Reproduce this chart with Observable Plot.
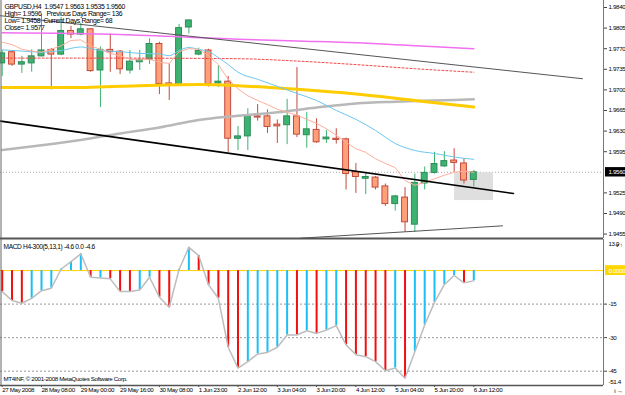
<!DOCTYPE html>
<html><head><meta charset="utf-8">
<script src="https://cdn.jsdelivr.net/npm/d3@7"></script>
<script src="https://cdn.jsdelivr.net/npm/@observablehq/plot@0.6"></script>
<style>
body{margin:0;background:#fff;}
#chart{position:relative;width:625px;height:395px;overflow:hidden;background:#fff;}
#chart svg{position:absolute;left:0;overflow:visible;}
</style></head><body><div id="chart"></div>
<script>
// ---- OHLC (GBPUSD H4) ----
const open  = [1.9745,1.9764,1.9743,1.9745,1.9757,1.9768,1.9760,1.9800,1.9794,1.9803,1.9733,1.9768,1.9765,1.9733,1.9747,1.9751,1.9778,1.9711,1.9707,1.9806,1.9760,1.9767,1.9711,1.9714,1.9617,1.9621,1.9655,1.9655,1.9641,1.9640,1.9655,1.9623,1.9632,1.9616,1.9617,1.9616,1.9560,1.9549,1.9551,1.9536,1.9506,1.9517,1.9471,1.9541,1.9559,1.9570,1.9580,1.9575,1.9547];
const high  = [1.9767,1.9767,1.9757,1.9768,1.9828,1.9770,1.9823,1.9808,1.9813,1.9804,1.9773,1.9795,1.9767,1.9767,1.9767,1.9787,1.9781,1.9744,1.9811,1.9819,1.9771,1.9769,1.9741,1.9723,1.9638,1.9668,1.9675,1.9666,1.9649,1.9684,1.9738,1.9662,1.9651,1.9631,1.9634,1.9618,1.9575,1.9560,1.9553,1.9540,1.9521,1.9534,1.9557,1.9569,1.9594,1.9595,1.9600,1.9583,1.9563];
const low   = [1.9723,1.9740,1.9728,1.9730,1.9756,1.9700,1.9758,1.9787,1.9792,1.9730,1.9670,1.9730,1.9726,1.9727,1.9733,1.9743,1.9692,1.9682,1.9706,1.9795,1.9758,1.9705,1.9704,1.9594,1.9597,1.9597,1.9647,1.9626,1.9609,1.9607,1.9619,1.9601,1.9609,1.9609,1.9608,1.9530,1.9524,1.9522,1.9530,1.9502,1.9494,1.9458,1.9458,1.9530,1.9557,1.9568,1.9560,1.9540,1.9535];
const close = [1.9762,1.9743,1.9747,1.9757,1.9767,1.9760,1.9800,1.9794,1.9803,1.9732,1.9768,1.9764,1.9735,1.9748,1.9751,1.9778,1.9710,1.9708,1.9805,1.9818,1.9766,1.9710,1.9714,1.9617,1.9621,1.9657,1.9653,1.9637,1.9638,1.9655,1.9624,1.9633,1.9611,1.9619,1.9615,1.9557,1.9552,1.9552,1.9534,1.9506,1.9519,1.9475,1.9542,1.9559,1.9574,1.9579,1.9576,1.9546,1.9560];

// ---- moving averages (bar index, value) ----
const fastMA = [1.9781,1.9777,1.9769,1.9766,1.9764,1.9769,1.9775,1.9784,1.9785,1.9775,1.9769,1.9762,1.9758,1.9752,1.9751,1.9752,1.9747,1.9745,1.9765,1.9770,1.9769,1.9758,1.9743,1.9718,1.9702,1.9690,1.9682,1.9675,1.9667,1.9662,1.9657,1.9650,1.9643,1.9634,1.9623,1.9611,1.9600,1.9594,1.9583,1.9575,1.9568,1.9546,1.9538,1.9543,1.9549,1.9555,1.9560,1.9562,1.9560];
const cyanBars = [0,2,4,6,8,10,12,14,16,17,18,19,20,21,22,23,24,26,28,30,32,34,36,38,40,42,44,46,48];
const cyanVals = [1.9768,1.9766,1.9764,1.9767,1.9773,1.9767,1.9765,1.9762,1.9761,1.9758,1.9767,1.9772,1.9769,1.9765,1.9755,1.9743,1.9730,1.9718,1.9706,1.9694,1.9682,1.9665,1.9650,1.9631,1.9609,1.9597,1.9592,1.9586,1.9582];
const magentaBars = [0,12,24,30,36,42,48];
const magentaVals = [1.9797,1.9794,1.9786,1.9783,1.9780,1.9775,1.9770];
const redBars = [0,12,24,30,36,42,48];
const redVals = [1.9754,1.9754,1.9753,1.9749,1.9743,1.9736,1.9730];
const goldBars = [0,8,12,20,24,30,36,42,48];
const goldVals = [1.9704,1.9704,1.9706,1.9709,1.9707,1.9701,1.9693,1.9682,1.9671];
const silverBars = [0,4,8,12,16,20,24,28,32,36,40,44,48];
const silverVals = [1.9598,1.9606,1.9615,1.9626,1.9636,1.9649,1.9656,1.9662,1.9670,1.9677,1.9680,1.9682,1.9684];

// ---- drawn objects (bar index / price) ----
const channelMidBars = [-0.17, 52.04], channelMidVals = [1.9647, 1.9524];
const channelTopBars = [-0.17, 59.06], channelTopVals = [1.9826, 1.9719];
const channelLowBars = [30.36, 50.92], channelLowVals = [1.9448, 1.9469];
const zoneBars = [46.04, 50.0], zoneVals = [1.9512, 1.9559];

// ---- MACD ----
const macd = [-9.4,-13.4,-14.6,-12.4,-9.0,-7.9,0.7,4.0,7.5,-3.0,-3.3,-3.7,-9.4,-9.4,-8.7,-3.0,-11.9,-16.4,0.5,10.4,6.7,-6.4,-12.4,-34.3,-43.6,-40.7,-37.3,-36.6,-34.3,-28.8,-28.8,-26.9,-28.1,-26.6,-24.6,-33.3,-37.6,-38.5,-40.7,-44.8,-43.6,-48.2,-36.3,-24.3,-14.2,-6.3,-2.2,-5.5,-4.6];
const macdDir = ["d","d","d","u","u","u","u","u","u","d","u","d","d","d","u","u","d","d","u","u","d","d","d","d","d","u","u","u","u","u","d","u","d","u","u","d","d","d","d","d","u","d","u","u","u","u","u","d","u"];
const macdLevels = [-15,-30,-45];

// ---- labels ----
const priceTicks = [1.9840,1.9805,1.9770,1.9735,1.9700,1.9665,1.9630,1.9595,1.9525,1.9490,1.9455];
const timeTickBars = [0,4,8,12,16,20,24,28,32,36,40,44,48];
const timeTickLabels = ["27 May 2008","28 May 08:00","29 May 00:00","29 May 16:00","30 May 08:00","1 Jun 23:00","2 Jun 12:00","3 Jun 04:00","3 Jun 20:00","4 Jun 12:00","5 Jun 04:00","5 Jun 20:00","6 Jun 12:00"];
const infoLeft = ["GBPUSD,H4  1.9547 1.9563 1.9535 1.9560","High= 1.9596","Low= 1.9458","Close= 1.9577"];
const infoRight = ["Previous Days Range= 136","Current Days Range= 68"];
const macdTitle = "MACD H4-300(5,13,1) -4.6 0.0 -4.6";
const copyright = "MT4INF, \u00a9 2001-2008 MetaQuotes Software Corp.";

const FONT = "'Liberation Sans',Arial,sans-serif";
const STYLE = {fontFamily:FONT, fontSize:"6.2px", letterSpacing:"-0.35px", color:"#000", background:"transparent", overflow:"visible"};
const INFO_FS = 6.9;
const xDomain = [-0.173, 61.2];
const priceDomain = [1.94475, 1.98519];
const macdDomain = [-51.4, 13.9];
const lastClose = close[close.length-1];

const bars = open.map((o,i)=>({i, o, h:high[i], l:low[i], c:close[i], up: close[i] >= open[i]}));
const pts = (xs, vs) => xs.map((x,k)=>({x, v:vs[k]}));
const BULL_FILL="#3CB371", BULL_LINE="#2E8B57", BEAR_FILL="#FFA07A", BEAR_LINE="#C24A3C";

const chart = document.getElementById("chart");

const main = Plot.plot({
  width:625, height:239, marginTop:0, marginLeft:0, marginRight:22, marginBottom:1,
  x:{domain:xDomain, axis:null}, y:{domain:priceDomain, axis:null},
  style:STYLE,
  marks:[
    Plot.ruleY([lastClose], {stroke:"#aaa", strokeDasharray:"1,2"}),
    Plot.rect([0], {x1:zoneBars[0], x2:zoneBars[1], y1:zoneVals[0], y2:zoneVals[1], fill:"#d9d9d9", fillOpacity:0.85}),
    Plot.ruleX(bars, {x:"i", y1:"l", y2:"h", stroke:d=>d.up?BULL_FILL:BEAR_LINE, strokeWidth:1}),
    Plot.rect(bars, {x1:d=>d.i-0.3, x2:d=>d.i+0.3, y1:"o", y2:"c", fill:d=>d.up?BULL_FILL:BEAR_FILL, stroke:d=>d.up?BULL_LINE:BEAR_LINE, strokeWidth:1}),
    Plot.line(pts(silverBars, silverVals), {x:"x", y:"v", stroke:"#b8b8b8", strokeWidth:2.5, curve:"monotone-x"}),
    Plot.line(pts(goldBars, goldVals), {x:"x", y:"v", stroke:"#FFCC00", strokeWidth:3, curve:"monotone-x"}),
    Plot.line(pts(magentaBars, magentaVals), {x:"x", y:"v", stroke:"#F070F0", strokeWidth:1.5, curve:"monotone-x"}),
    Plot.line(pts(redBars, redVals), {x:"x", y:"v", stroke:"#F04040", strokeWidth:1, strokeDasharray:"2,2", curve:"monotone-x"}),
    Plot.line(pts(cyanBars, cyanVals), {x:"x", y:"v", stroke:"#6CC8EE", strokeWidth:1, curve:"monotone-x"}),
    Plot.line(fastMA.map((v,i)=>({x:i, v})), {x:"x", y:"v", stroke:"#FFAE9C", strokeWidth:1}),
    Plot.line(pts(channelTopBars, channelTopVals), {x:"x", y:"v", stroke:"#555", strokeWidth:1}),
    Plot.line(pts(channelLowBars, channelLowVals), {x:"x", y:"v", stroke:"#555", strokeWidth:1}),
    Plot.line(pts(channelMidBars, channelMidVals), {x:"x", y:"v", stroke:"#000", strokeWidth:1.6}),
    Plot.axisY({anchor:"right", ticks:priceTicks, tickFormat:d=>d.toFixed(4), tickSize:3, tickPadding:2, stroke:"#444"}),
    Plot.rect([0], {x1:xDomain[1]+0.2, x2:xDomain[1]+2.3, y1:lastClose-0.0008, y2:lastClose+0.0008, fill:"#000"}),
    Plot.text([lastClose.toFixed(4)], {x:xDomain[1], y:lastClose, dx:5, textAnchor:"start", fill:"#fff"}),
    ...infoLeft.map((t,k)=>Plot.text([t], {frameAnchor:"top-left", dx:4, dy:6+k*7, lineAnchor:"middle", textAnchor:"start", fill:"#000", fontSize:INFO_FS})),
    ...infoRight.map((t,k)=>Plot.text([t], {frameAnchor:"top-left", dx:k?43:46, dy:13+k*7, lineAnchor:"middle", textAnchor:"start", fill:"#000", fontSize:INFO_FS})),
    Plot.ruleX([xDomain[0]], {stroke:"#666", dx:0.5}),
    Plot.ruleX([xDomain[1]], {stroke:"#777"}),
    Plot.ruleY([priceDomain[0]], {stroke:"#555", strokeWidth:2})
  ]
});
main.style.top = "0px";
chart.appendChild(main);

const mdata = macd.map((v,i)=>({i, v, up: macdDir[i]==="u"}));
const sub = Plot.plot({
  width:625, height:156, marginTop:0, marginLeft:0, marginRight:22, marginBottom:10,
  x:{domain:xDomain, axis:null}, y:{domain:macdDomain, axis:null},
  style:STYLE,
  marks:[
    Plot.ruleY(macdLevels, {stroke:"#999", strokeDasharray:"2,2"}),
    Plot.ruleY([0], {stroke:"#FFD200"}),
    Plot.ruleX(mdata, {x:"i", y1:0, y2:"v", stroke:d=>d.up?"#19BFF5":"#F01010", strokeWidth:2}),
    Plot.line(mdata, {x:"i", y:"v", stroke:"#bdbdbd", strokeWidth:1.5}),
    Plot.axisY({anchor:"right", ticks:macdLevels, tickFormat:d=>String(d), tickSize:3, tickPadding:2, stroke:"#444"}),
    Plot.text([String(macdDomain[1])], {x:xDomain[1], y:macdDomain[1], dx:5, dy:5, lineAnchor:"middle", textAnchor:"start"}),
    Plot.text([String(macdDomain[0])], {x:xDomain[1], y:macdDomain[0], dx:5, dy:-2, lineAnchor:"bottom", textAnchor:"start"}),
    Plot.rect([0], {x1:xDomain[1]+0.2, x2:xDomain[1]+2.3, y1:-2.2, y2:2.2, fill:"#FFD700"}),
    Plot.text(["0.0000"], {x:xDomain[1], y:0, dx:5, textAnchor:"start", fill:"#fff"}),
    Plot.text([macdTitle], {frameAnchor:"top-left", dx:3, dy:7, lineAnchor:"middle", textAnchor:"start", fontSize:6.6}),
    Plot.text([copyright], {frameAnchor:"bottom-left", dx:3, dy:-6, lineAnchor:"middle", textAnchor:"start"}),
    Plot.axisX({anchor:"bottom", ticks:timeTickBars, tickFormat:d=>timeTickLabels[timeTickBars.indexOf(d)], textAnchor:"start", tickSize:2, tickPadding:0, stroke:"#444"}),
    Plot.ruleX([xDomain[0]], {stroke:"#666", dx:0.5}),
    Plot.ruleX([xDomain[1]], {stroke:"#777"}),
    Plot.ruleY([macdDomain[0]], {stroke:"#555", strokeWidth:1.5})
  ]
});
sub.style.top = "239px";
chart.appendChild(sub);
</script>
</body></html>
